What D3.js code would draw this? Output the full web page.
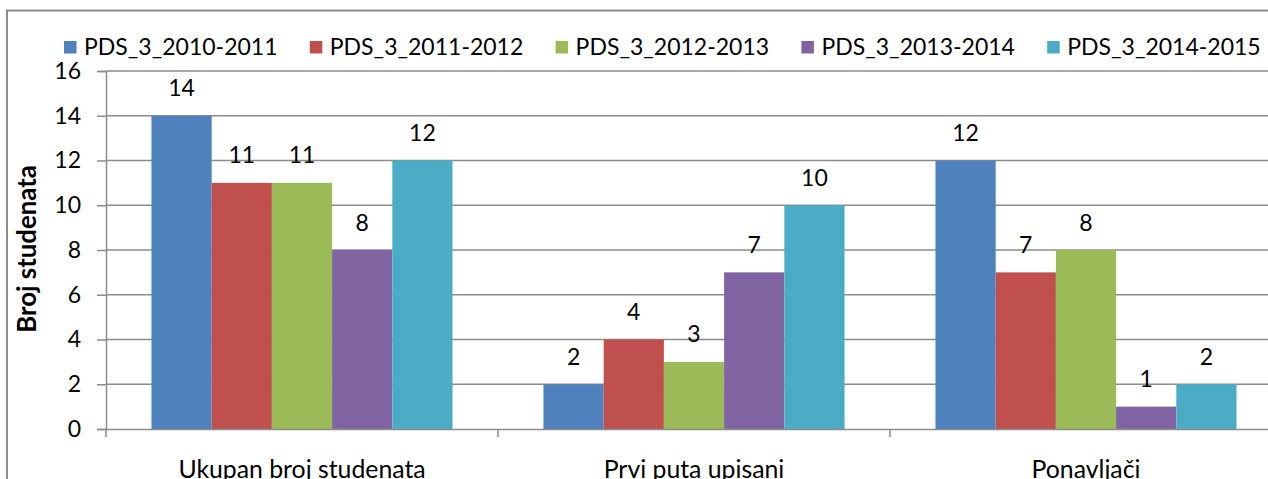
<!DOCTYPE html>
<html><head><meta charset="utf-8">
<script src="https://cdn.jsdelivr.net/npm/d3@7"></script>
<style>html,body{margin:0;padding:0;background:#fff;overflow:hidden}svg{display:block}text{font-family:Lato,"Open Sans",sans-serif;fill:#000}</style>
</head><body>
<svg id="c" width="1268" height="479"></svg>
<script>
const categories = ["Ukupan broj studenata", "Prvi puta upisani", "Ponavljači"];
const seriesNames = ["PDS_3_2010-2011", "PDS_3_2011-2012", "PDS_3_2012-2013", "PDS_3_2013-2014", "PDS_3_2014-2015"];
const s2010 = [14, 2, 12];
const s2011 = [11, 4, 7];
const s2012 = [11, 3, 8];
const s2013 = [8, 7, 1];
const s2014 = [12, 10, 2];
const yTicks = [0, 2, 4, 6, 8, 10, 12, 14, 16];
const yTitle = "Broj studenata";
const colors = ["#4F81BD", "#C0504D", "#9BBB59", "#8064A2", "#4BACC6"];

const seriesValues = [s2010, s2011, s2012, s2013, s2014];
const svg = d3.select("#c");
const FS = 23;

// outer frame
svg.append("rect").attr("x", 7).attr("y", 10.5).attr("width", 1400).attr("height", 600)
  .attr("fill", "none").attr("stroke", "#8c8c8c").attr("stroke-width", 2);

const pL = 106, pR = 1282, pT = 71, pB = 429;
const x0 = d3.scaleBand().domain(categories).range([pL, pR]);
const bw = x0.bandwidth();
const x1 = d3.scaleBand().domain(seriesNames).range([bw * 0.116, bw * 0.884]);
const y = d3.scaleLinear().domain([0, 16]).range([pB, pT]);

// gridlines
svg.append("g").selectAll("line").data(yTicks.filter(d => d > 0)).join("line")
  .attr("x1", pL).attr("x2", pR)
  .attr("y1", d => y(d)).attr("y2", d => y(d))
  .attr("stroke", "#8c8c8c").attr("stroke-width", 1.5);

// bars
const groups = svg.append("g").selectAll("g").data(categories).join("g")
  .attr("transform", c => `translate(${x0(c)},0)`);
groups.each(function(c, ci) {
  const g = d3.select(this);
  seriesNames.forEach((s, si) => {
    const v = seriesValues[si][ci];
    g.append("rect").attr("x", x1(s)).attr("width", x1.bandwidth())
      .attr("y", y(v)).attr("height", y(0) - y(v)).attr("fill", colors[si]);
    g.append("text").attr("x", x1(s) + x1.bandwidth() / 2).attr("y", y(v) - 19.5)
      .attr("text-anchor", "middle").attr("font-size", FS).text(v);
  });
});

// y axis
const yAxis = svg.append("g").attr("transform", `translate(${pL},0)`)
  .call(d3.axisLeft(y).tickValues(yTicks).tickSize(9).tickPadding(16));
yAxis.select(".domain").attr("stroke", "#8c8c8c").attr("stroke-width", 1.5);
yAxis.selectAll(".tick line").attr("stroke", "#8c8c8c").attr("stroke-width", 1.5);
yAxis.selectAll(".tick text").attr("font-size", FS).attr("font-family", "Lato").attr("fill", "#000");

// x axis
const xAxis = svg.append("g").attr("transform", `translate(0,${pB})`)
  .call(d3.axisBottom(x0).tickSize(0).tickPadding(0));
xAxis.select(".domain").attr("stroke", "#8c8c8c").attr("stroke-width", 1.5);
xAxis.selectAll(".tick text").attr("font-size", 24.8).attr("font-family", "Lato").attr("fill", "#000")
  .attr("y", 49).attr("dy", 0);
svg.append("g").selectAll("line").data(categories.concat(["end"])).join("line")
  .attr("x1", (d, i) => pL + i * bw).attr("x2", (d, i) => pL + i * bw)
  .attr("y1", pB).attr("y2", pB + 8)
  .attr("stroke", "#8c8c8c").attr("stroke-width", 1.5);

// y title
svg.append("text").attr("transform", "translate(36,249) rotate(-90)")
  .attr("text-anchor", "middle").attr("font-size", 25.8).attr("font-weight", "bold").text(yTitle);

// legend
const leg = svg.append("g").selectAll("g").data(seriesNames).join("g")
  .attr("transform", (d, i) => `translate(${64 + i * 245.8},41)`);
leg.append("rect").attr("width", 12.5).attr("height", 12.5).attr("fill", (d, i) => colors[i]);
leg.append("text").attr("x", 20).attr("y", 14).attr("font-size", FS).text(d => d);
</script>
</body></html>
